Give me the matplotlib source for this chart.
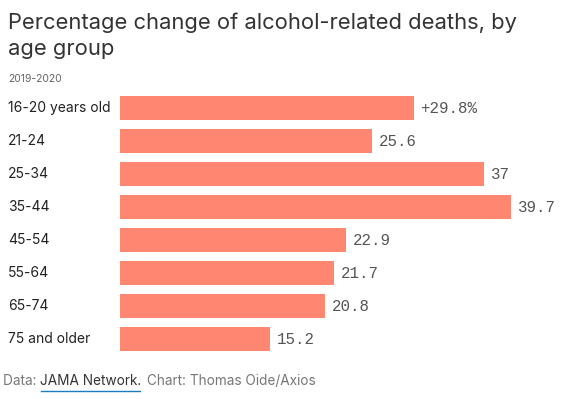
import numpy as np
import matplotlib.pyplot as plt
from matplotlib.transforms import blended_transform_factory

groups = ['16-20 years old', '21-24', '25-34', '35-44', '45-54', '55-64', '65-74', '75 and older']
changes = [29.8, 25.6, 37, 39.7, 22.9, 21.7, 20.8, 15.2]
value_labels = ['+29.8%', '25.6', '37', '39.7', '22.9', '21.7', '20.8', '15.2']

bar_color = '#ff8671'
sans = 'Inter'
mono = 'Liberation Mono'

fig = plt.figure(figsize=(5.72, 3.99), dpi=100)
ax = fig.add_axes([120 / 572, 1 - 355.5 / 399, 440 / 572, 263.5 / 399])

y = np.arange(len(groups))
ax.barh(y, changes, height=0.73, color=bar_color)
ax.set_xlim(0, 440 / 9.85)
ax.set_ylim(len(groups) - 0.5, -0.5)
ax.axis('off')

# category labels at the left edge of the figure
trans = blended_transform_factory(fig.transFigure, ax.transData)
for i, g in enumerate(groups):
    ax.text(8 / 572, i, g, transform=trans, ha='left', va='center',
            fontsize=10, family=sans, color='#222222')

# value labels next to the bars
for i, (v, lab) in enumerate(zip(changes, value_labels)):
    ax.annotate(lab, (v, i), xytext=(5, 0), textcoords='offset points',
                ha='left', va='center', fontsize=11.3, family=mono, color='#555555')

fig.text(8 / 572, 1 - 23 / 399, 'Percentage change of alcohol-related deaths, by',
         ha='left', va='center', fontsize=15.8, family=sans, color='#333333')
fig.text(8 / 572, 1 - 49 / 399, 'age group',
         ha='left', va='center', fontsize=15.8, family=sans, color='#333333')
fig.text(8 / 572, 1 - 79 / 399, '2019-2020',
         ha='left', va='center', fontsize=7.5, family=sans, color='#666666')

# footer
fs = 9.8
t1 = fig.text(3 / 572, 1 - 381 / 399, 'Data: ', ha='left', va='center',
              fontsize=fs, family=sans, color='#777777')
fig.canvas.draw()
r = fig.canvas.get_renderer()
bb = t1.get_window_extent(r)
t2 = fig.text(bb.x1 / 572, 1 - 381 / 399, 'JAMA Network.', ha='left', va='center',
              fontsize=fs, family=sans, color='#333333')
bb2 = t2.get_window_extent(r)
fig.add_artist(plt.Line2D([(bb.x1 + 1) / 572, (bb2.x1 - 2) / 572], [1 - 391 / 399, 1 - 391 / 399],
                          transform=fig.transFigure, color='#1a7cc1', lw=1))
fig.text((bb2.x1 + 5) / 572, 1 - 381 / 399, 'Chart: Thomas Oide/Axios', ha='left', va='center',
         fontsize=fs, family=sans, color='#777777')

fig.savefig('out.png', dpi=100)
